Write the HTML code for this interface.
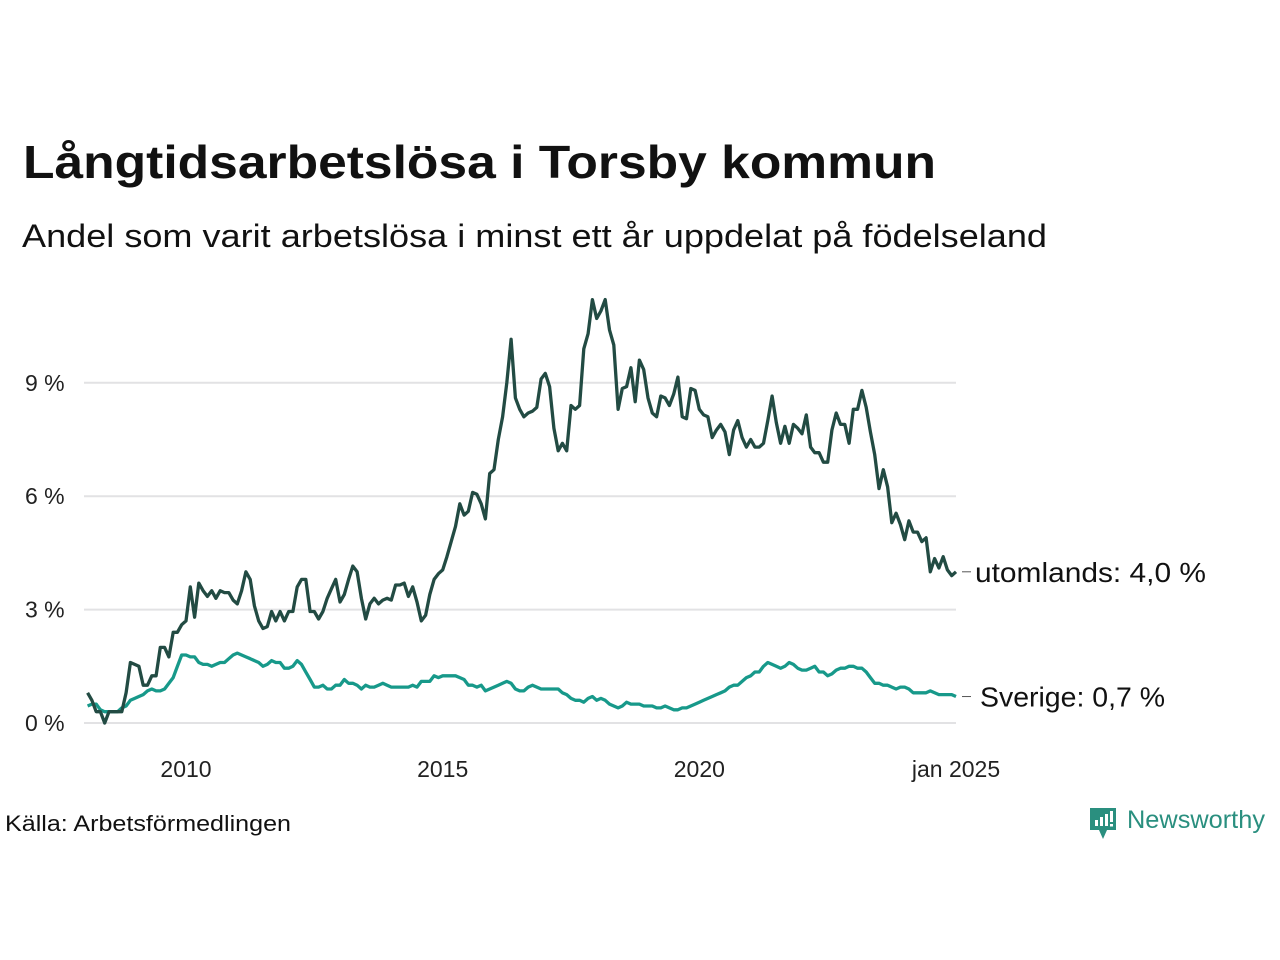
<!DOCTYPE html>
<html><head><meta charset="utf-8"><style>
html,body{margin:0;padding:0;background:#fff;}
svg{display:block;font-family:"Liberation Sans","DejaVu Sans",sans-serif;}
</style></head><body>
<svg id="chart" width="1280" height="960" viewBox="0 0 1280 960">
<text x="23" y="178" font-size="46" font-weight="bold" fill="#111" textLength="913" lengthAdjust="spacingAndGlyphs">Långtidsarbetslösa i Torsby kommun</text>
<text x="22" y="247" font-size="32" fill="#111" textLength="1025" lengthAdjust="spacingAndGlyphs">Andel som varit arbetslösa i minst ett år uppdelat på födelseland</text>
<g id="grid"></g>
<g id="yticks"></g>
<g id="xticks"></g>
<g id="lines"></g>
<g id="labels"></g>
<text x="5" y="831" font-size="22" fill="#111" textLength="286" lengthAdjust="spacingAndGlyphs">Källa: Arbetsförmedlingen</text>
<g>
<path d="M1090 808 h26 v22 h-9 l-4 9 l-4 -9 h-9 z" fill="#2a8f7f"/>
<rect x="1095" y="820" width="3" height="6" fill="#fff"/><rect x="1100" y="817" width="3" height="9" fill="#fff"/><rect x="1105" y="814" width="3" height="12" fill="#fff"/><rect x="1110" y="811" width="3" height="11" fill="#fff"/><rect x="1110" y="824" width="3" height="2.5" fill="#fff"/>
<text x="1127" y="828" font-size="25" fill="#2a8f7f" textLength="138" lengthAdjust="spacingAndGlyphs">Newsworthy</text>
</g>
</svg>
<script>
const startYear = 2008, startMonth = 2;
const utomlands = [
0.8,0.6,0.3,0.3,0.0,0.3,0.3,0.3,0.3,0.8,1.6,
1.55,1.5,1.0,1.0,1.25,1.25,2.0,2.0,1.75,2.4,2.4,2.6,
2.7,3.6,2.8,3.7,3.5,3.35,3.5,3.3,3.5,3.45,3.45,3.25,
3.15,3.5,4.0,3.8,3.1,2.7,2.5,2.55,2.95,2.7,2.95,2.7,
2.95,2.95,3.6,3.8,3.8,2.95,2.95,2.75,2.95,3.3,3.55,3.8,
3.2,3.4,3.8,4.15,4.0,3.3,2.75,3.15,3.3,3.15,3.25,3.3,
3.25,3.65,3.65,3.7,3.35,3.6,3.2,2.7,2.85,3.4,3.8,3.95,
4.05,4.4,4.8,5.2,5.8,5.5,5.6,6.1,6.05,5.8,5.4,6.6,
6.7,7.5,8.1,9.0,10.15,8.6,8.3,8.1,8.2,8.25,8.35,9.1,
9.25,8.9,7.8,7.2,7.4,7.2,8.4,8.3,8.4,9.9,10.3,11.2,
10.7,10.9,11.2,10.4,10.0,8.3,8.85,8.9,9.4,8.5,9.6,9.35,
8.6,8.2,8.1,8.65,8.6,8.4,8.7,9.15,8.1,8.05,8.85,8.8,
8.3,8.15,8.1,7.55,7.75,7.9,7.7,7.1,7.75,8.0,7.55,7.3,
7.5,7.3,7.3,7.4,8.0,8.65,7.95,7.4,7.85,7.4,7.9,7.8,
7.65,8.15,7.3,7.15,7.15,6.9,6.9,7.75,8.2,7.9,7.9,7.4,
8.3,8.3,8.8,8.35,7.7,7.1,6.2,6.7,6.25,5.3,5.55,5.25,
4.85,5.35,5.05,5.05,4.8,4.9,4.0,4.35,4.1,4.4,4.05,3.9,
4.0];
const sverige = [
0.45,0.5,0.5,0.35,0.3,0.3,0.3,0.3,0.4,0.45,0.6,
0.65,0.7,0.75,0.85,0.9,0.85,0.85,0.9,1.05,1.2,1.5,1.8,
1.8,1.75,1.75,1.6,1.55,1.55,1.5,1.55,1.6,1.6,1.7,1.8,
1.85,1.8,1.75,1.7,1.65,1.6,1.5,1.55,1.65,1.6,1.6,1.45,
1.45,1.5,1.65,1.55,1.35,1.15,0.95,0.95,1.0,0.9,0.9,1.0,
1.0,1.15,1.05,1.05,1.0,0.9,1.0,0.95,0.95,1.0,1.05,1.0,
0.95,0.95,0.95,0.95,0.95,1.0,0.95,1.1,1.1,1.1,1.25,1.2,
1.25,1.25,1.25,1.25,1.2,1.15,1.0,1.0,0.95,1.0,0.85,0.9,
0.95,1.0,1.05,1.1,1.05,0.9,0.85,0.85,0.95,1.0,0.95,0.9,
0.9,0.9,0.9,0.9,0.8,0.75,0.65,0.6,0.6,0.55,0.65,0.7,
0.6,0.65,0.6,0.5,0.45,0.4,0.45,0.55,0.5,0.5,0.5,0.45,
0.45,0.45,0.4,0.4,0.45,0.4,0.35,0.35,0.4,0.4,0.45,0.5,
0.55,0.6,0.65,0.7,0.75,0.8,0.85,0.95,1.0,1.0,1.1,1.2,
1.25,1.35,1.35,1.5,1.6,1.55,1.5,1.45,1.5,1.6,1.55,1.45,
1.4,1.4,1.45,1.5,1.35,1.35,1.25,1.3,1.4,1.45,1.45,1.5,
1.5,1.45,1.45,1.35,1.2,1.05,1.05,1.0,1.0,0.95,0.9,0.95,
0.95,0.9,0.8,0.8,0.8,0.8,0.85,0.8,0.75,0.75,0.75,0.75,
0.7];
const yTicks = [0,3,6,9];
const yTickLabels = ["0 %","3 %","6 %","9 %"];
const xTicks = [2010,2015,2020,2025];
const xTickLabels = ["2010","2015","2020","jan 2025"];
const seriesNames = ["utomlands","Sverige"];

const NS="http://www.w3.org/2000/svg";
const x0=186, pxPerYear=(956-186)/15;
function xScale(yearFrac){return x0+(yearFrac-2010)*pxPerYear;}
function yScale(v){return 723-v*37.8;}
function idxToYear(i){return startYear+(startMonth-1+i)/12;}
function mk(tag,attrs,parent){const e=document.createElementNS(NS,tag);for(const k in attrs)e.setAttribute(k,attrs[k]);parent.appendChild(e);return e;}
const grid=document.getElementById('grid'), yt=document.getElementById('yticks'), xt=document.getElementById('xticks'), lines=document.getElementById('lines'), labels=document.getElementById('labels');
yTicks.forEach((t,i)=>{
  const l=mk('line',{x1:84,x2:956,y1:yScale(t),y2:yScale(t),stroke:'#e2e2e4','stroke-width':2},grid);
  
  
  const tx=mk('text',{x:25,y:yScale(t)+8,'font-size':23,fill:'#222'},yt);
  
  
  tx.textContent=yTickLabels[i];
});
xTicks.forEach((t,i)=>{
  const tx=mk('text',{x:xScale(t),y:777,'font-size':23,fill:'#222','text-anchor':'middle'},xt);
  
  
  tx.textContent=xTickLabels[i];
});
function path(vals){return vals.map((v,i)=>(i?'L':'M')+xScale(idxToYear(i)).toFixed(1)+' '+yScale(v).toFixed(1)).join(' ');}
const p2=mk('path',{d:path(sverige),fill:'none',stroke:'#17998a','stroke-width':3.3,'stroke-linejoin':'round'},lines);


const p1=mk('path',{d:path(utomlands),fill:'none',stroke:'#224b43','stroke-width':3.3,'stroke-linejoin':'round'},lines);


function fmt(v){return v.toFixed(1).replace('.',',')+' %';}
[[utomlands,seriesNames[0],975,231],[sverige,seriesNames[1],980,185]].forEach(([vals,name,lx,w])=>{
  const last=vals[vals.length-1], y=yScale(last);
  mk('line',{x1:962,x2:971,y1:y,y2:y,stroke:'#555','stroke-width':1},labels);
  const tx=mk('text',{x:lx,y:y+10,'font-size':28,fill:'#111',textLength:w,lengthAdjust:'spacingAndGlyphs'},labels);
  
  
  tx.textContent=name+': '+fmt(last);
});
</script>
</body></html>
